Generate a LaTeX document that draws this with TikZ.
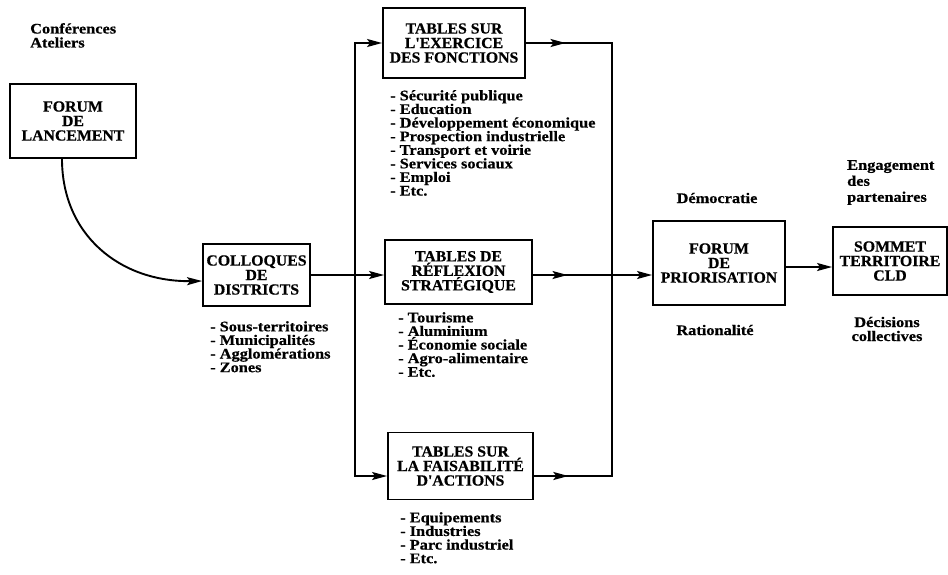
\documentclass[tikz,border=0pt]{standalone}
\usepackage{fontspec}
\setmainfont{Liberation Serif}
\newfontfamily\boxfam{Liberation Serif}[FakeStretch=1.02, FakeBold=0.6]
\newfontfamily\listfam{Liberation Serif}[FakeStretch=1.12, FakeBold=0.6]
\usetikzlibrary{arrows.meta,decorations.markings}

\tikzset{
  stagebox/.style={draw, line width=1.9pt, inner sep=0pt, align=center,
    font=\boxfam\bfseries\fontsize{15.5}{14.5}\selectfont},
  itemlist/.style={inner sep=0pt, align=left, anchor=north west,
    font=\listfam\bfseries\fontsize{14.6}{13.6}\selectfont},
  note/.style={inner sep=0pt, align=left,
    font=\listfam\bfseries\fontsize{14.6}{14}\selectfont},
  flow/.style={line width=1.9pt, line cap=rect},
  tip/.style={-{Stealth[length=15pt,width=8pt,inset=3pt]}},
  midtip/.style={postaction={decorate}, decoration={markings,
    mark=at position #1 with {\arrow{Stealth[length=15pt,width=8pt,inset=3pt]}}}}
}

\begin{document}
\begin{tikzpicture}[x=1pt,y=-1pt]
\useasboundingbox (0,0) rectangle (948,574);

% stages
\node[stagebox, minimum width=126pt, minimum height=74pt] (lanc) at (73,121) {FORUM\\DE\\LANCEMENT};
\node[stagebox, minimum width=107pt, minimum height=62pt] (coll) at (256.5,275) {COLLOQUES\\DE\\DISTRICTS};
\node[stagebox, minimum width=142pt, minimum height=70pt] (exer) at (454,43) {TABLES SUR\\L\textquotesingle EXERCICE\\DES FONCTIONS};
\node[stagebox, minimum width=147pt, minimum height=64pt] (refl) at (458.5,272) {TABLES DE\\RÉFLEXION\\STRATÉGIQUE};
\node[stagebox, minimum width=145pt, minimum height=67pt] (fais) at (460.5,466) {TABLES SUR\\LA FAISABILITÉ\\D\textquotesingle ACTIONS};
\node[stagebox, minimum width=132pt, minimum height=84pt] (prio) at (719,263) {FORUM\\DE\\PRIORISATION};
\node[stagebox, minimum width=114pt, minimum height=68pt] (somm) at (890,261) {SOMMET\\TERRITOIRE\\CLD};

% side notes
\node[note, anchor=north west] (conf) at (30,23) {Conférences\\Ateliers};
\node[note] (demo) at (717,198) {Démocratie};
\node[note] (rati) at (715,330) {Rationalité};
\node[note, anchor=north west, font=\listfam\bfseries\fontsize{14.6}{16}\selectfont] (enga) at (847,160) {Engagement\\des\\partenaires};
\node[note, align=center] (deci) at (887,329) {Décisions\\collectives};

% item lists
\node[itemlist] (lcoll) at (210,321) {- Sous-territoires\\- Municipalités\\- Agglomérations\\- Zones};
\node[itemlist] (lexer) at (390,90) {- Sécurité publique\\- Education\\- Développement économique\\- Prospection industrielle\\- Transport et voirie\\- Services sociaux\\- Emploi\\- Etc.};
\node[itemlist] (lrefl) at (398,312) {- Tourisme\\- Aluminium\\- Économie sociale\\- Agro-alimentaire\\- Etc.};
\node[itemlist] (lfais) at (400,512) {- Equipements\\- Industries\\- Parc industriel\\- Etc.};

% junctions of the two distribution bars
\coordinate (jl1) at (355,43);
\coordinate (jl2) at (355,476);
\coordinate (jr1) at (612,43);
\coordinate (jr2) at (612,476);

% connectors
\draw[flow, tip] ([xshift=-11pt]lanc.south) .. controls (62,235) and (120,282) .. ([yshift=-6pt]coll.west);
\draw[flow, tip] (coll.east) -- (coll.east -| refl.west);
\draw[flow] (jl2) -- (jl1);
\draw[flow, tip] (jl1) -- (exer.west |- jl1);
\draw[flow, tip] (jl2) -- (fais.west |- jl2);
\draw[flow, midtip=0.46] (exer.east |- jr1) -- (jr1);
\draw[flow, midtip=0.44] (fais.east |- jr2) -- (jr2);
\draw[flow] (jr1) -- (jr2);
\draw[flow, tip, midtip=0.29] (refl.east |- coll.east) -- (prio.west |- coll.east);
\draw[flow, tip] ([yshift=-4pt]prio.east) -- ([yshift=-4pt]prio.east -| somm.west);
\end{tikzpicture}
\end{document}
